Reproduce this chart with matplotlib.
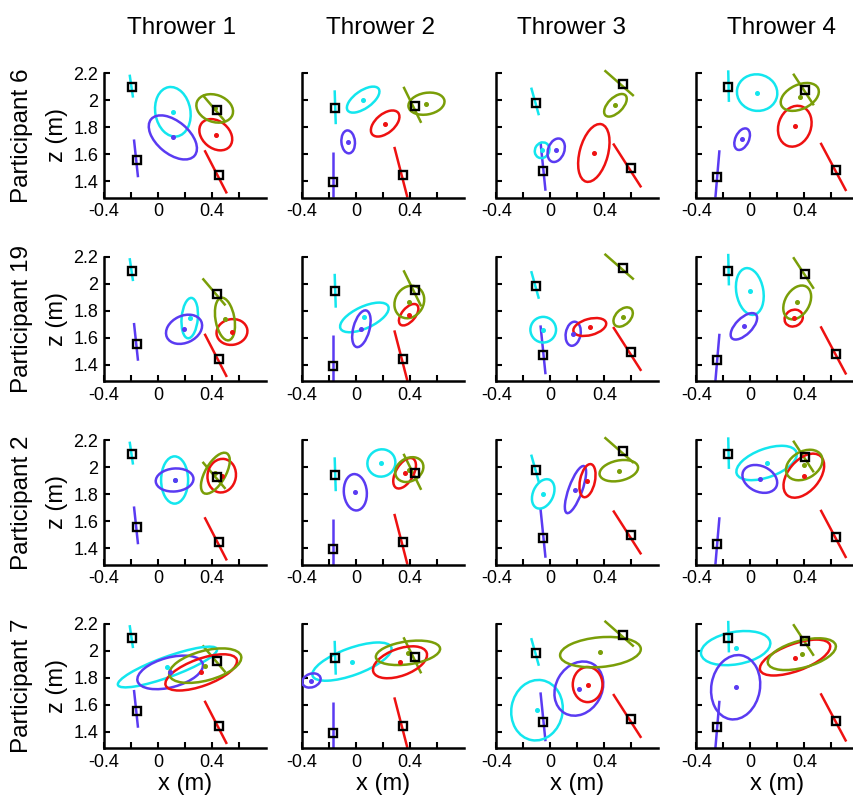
import numpy as np
import matplotlib
matplotlib.use("Agg")
import matplotlib.pyplot as plt
from matplotlib.patches import Ellipse

plt.rcParams["font.family"] = ["Liberation Sans", "DejaVu Sans"]
plt.rcParams["axes.unicode_minus"] = False

throwers = ["Thrower 1", "Thrower 2", "Thrower 3", "Thrower 4"]
participants = ["Participant 6", "Participant 19", "Participant 2", "Participant 7"]

x_ticks = [-0.4, -0.2, 0, 0.2, 0.4, 0.6]
x_ticklabels = ["-0.4", "", "0", "", "0.4", ""]
z_ticks = [1.4, 1.6, 1.8, 2.0, 2.2]
z_ticklabels = ["1.4", "1.6", "1.8", "2", "2.2"]

# thrower marker (square) per thrower, and the short path segment through it
cyan_sq = [(-0.195, 2.095), (-0.153, 1.943), (-0.110, 1.983), (-0.165, 2.098)]
blue_sq = [(-0.153, 1.557), (-0.172, 1.394), (-0.059, 1.475), (-0.247, 1.433)]
red_sq = [(0.450, 1.446), (0.345, 1.446), (0.593, 1.495), (0.637, 1.483)]
olive_sq = [(0.435, 1.928), (0.434, 1.956), (0.536, 2.118), (0.405, 2.074)]

cyan_path = [[(-0.21, 2.19), (-0.185, 2.02)], [(-0.158, 2.074), (-0.150, 1.823)],
             [(-0.143, 2.094), (-0.086, 1.889)], [(-0.165, 2.222), (-0.160, 1.988)]]
blue_path = [[(-0.178, 1.71), (-0.148, 1.43)], [(-0.172, 1.618), (-0.172, 1.28)],
             [(-0.074, 1.692), (-0.037, 1.33)], [(-0.230, 1.63), (-0.260, 1.28)]]
red_path = [[(0.345, 1.63), (0.51, 1.31)], [(0.284, 1.655), (0.381, 1.28)],
            [(0.464, 1.68), (0.672, 1.355)], [(0.519, 1.685), (0.709, 1.328)]]
olive_path = [[(0.33, 2.04), (0.50, 1.84)], [(0.352, 2.10), (0.483, 1.833)],
              [(0.400, 2.222), (0.617, 2.032)], [(0.316, 2.197), (0.469, 1.963)]]

# ellipses: (centre x, centre z, major, minor, angle deg), row = participant, col = thrower
cyan_ell = [
    [(0.110, 1.915, 0.37, 0.26, 100), (0.053, 2.005, 0.28, 0.13, 35),
     (-0.062, 1.630, 0.12, 0.105, 60), (0.049, 2.057, 0.30, 0.27, -10)],
    [(0.235, 1.746, 0.30, 0.12, 85), (0.062, 1.751, 0.39, 0.16, 25),
     (-0.054, 1.660, 0.19, 0.19, 0), (-0.005, 1.943, 0.35, 0.20, 100)],
    [(0.123, 1.906, 0.35, 0.20, 90), (0.188, 2.032, 0.21, 0.20, 30),
     (-0.054, 1.803, 0.23, 0.15, 65), (0.119, 2.032, 0.47, 0.21, 20)],
    [(0.070, 1.880, 0.78, 0.15, 20), (-0.030, 1.920, 0.62, 0.20, 20),
     (-0.100, 1.560, 0.45, 0.38, 80), (-0.110, 2.020, 0.52, 0.24, 10)],
]
blue_ell = [
    [(0.110, 1.725, 0.42, 0.24, -40), (-0.058, 1.692, 0.17, 0.10, 95),
     (0.042, 1.630, 0.18, 0.12, 70), (-0.062, 1.712, 0.17, 0.10, 65)],
    [(0.193, 1.663, 0.28, 0.20, 25), (0.040, 1.667, 0.28, 0.12, 75),
     (0.168, 1.630, 0.18, 0.11, 80), (-0.049, 1.685, 0.25, 0.12, 45)],
    [(0.123, 1.906, 0.28, 0.17, 5), (-0.005, 1.815, 0.27, 0.17, 95),
     (0.185, 1.835, 0.37, 0.10, 70), (0.069, 1.914, 0.27, 0.19, -25)],
    [(0.090, 1.840, 0.50, 0.22, 15), (-0.330, 1.780, 0.14, 0.10, 20),
     (0.210, 1.720, 0.42, 0.34, 60), (-0.110, 1.730, 0.48, 0.36, 80)],
]
red_ell = [
    [(0.428, 1.745, 0.27, 0.20, -40), (0.216, 1.828, 0.25, 0.14, 40),
     (0.321, 1.610, 0.44, 0.21, 75), (0.328, 1.808, 0.31, 0.24, 70)],
    [(0.548, 1.643, 0.23, 0.19, 10), (0.390, 1.771, 0.19, 0.10, 50),
     (0.291, 1.680, 0.25, 0.12, 15), (0.320, 1.746, 0.14, 0.12, 30)],
    [(0.472, 1.938, 0.25, 0.21, 80), (0.360, 1.956, 0.25, 0.13, 60),
     (0.274, 1.901, 0.25, 0.11, 78), (0.395, 1.938, 0.38, 0.23, 50)],
    [(0.320, 1.840, 0.56, 0.20, 20), (0.326, 1.915, 0.42, 0.20, 20),
     (0.275, 1.750, 0.26, 0.22, 90), (0.330, 1.950, 0.55, 0.20, 20)],
]
olive_ell = [
    [(0.420, 1.940, 0.28, 0.20, -20), (0.522, 1.975, 0.27, 0.16, 10),
     (0.481, 1.963, 0.21, 0.11, 45), (0.365, 2.025, 0.30, 0.18, 25)],
    [(0.496, 1.739, 0.32, 0.14, 100), (0.395, 1.865, 0.25, 0.21, 60),
     (0.538, 1.754, 0.17, 0.11, 45), (0.346, 1.862, 0.27, 0.18, 60)],
    [(0.425, 1.956, 0.34, 0.15, 60), (0.395, 1.983, 0.22, 0.17, 30),
     (0.506, 1.975, 0.29, 0.15, 12), (0.398, 2.017, 0.29, 0.20, 30)],
    [(0.350, 1.890, 0.55, 0.22, 15), (0.385, 1.985, 0.48, 0.17, 8),
     (0.370, 1.990, 0.60, 0.22, 5), (0.380, 1.975, 0.52, 0.20, 15)],
]

C_CYAN = "#13E6EE"
C_BLUE = "#5A3BF2"
C_RED = "#EE1111"
C_OLIVE = "#7A9E08"

groups = [
    (C_CYAN, cyan_sq, cyan_path, cyan_ell),
    (C_BLUE, blue_sq, blue_path, blue_ell),
    (C_RED, red_sq, red_path, red_ell),
    (C_OLIVE, olive_sq, olive_path, olive_ell),
]

W, H = 854, 798
fig = plt.figure(figsize=(W / 100, H / 100), dpi=100)

col_left_px = [104, 302, 496.5, 696.5]
row_top_px = [73.3, 256.8, 440.3, 623.8]
title_x_px = [182, 381, 572, 782]
ax_w_px = 1.2 * 135
ax_h_px = 0.92 * 135

for r in range(4):
    for c in range(4):
        left = col_left_px[c] / W
        bottom = 1 - (row_top_px[r] + ax_h_px) / H
        ax = fig.add_axes([left, bottom, ax_w_px / W, ax_h_px / H])
        ax.set_xlim(-0.4, 0.8)
        ax.set_ylim(1.28, 2.2)

        for color, sq, path, ell in groups:
            (x0, z0), (x1, z1) = path[c]
            ax.plot([x0, x1], [z0, z1], color=color, lw=1.8,
                    solid_capstyle="butt", clip_on=False, zorder=2)
            cx, cz, maj, mnr, ang = ell[r][c]
            ax.add_patch(Ellipse((cx, cz), maj, mnr, angle=ang, fill=False,
                                 edgecolor=color, lw=1.8, zorder=3))
            ax.plot(cx, cz, "o", color=color, ms=2.6, zorder=4)
        for color, sq, path, ell in groups:
            ax.plot(*sq[c], "s", mfc="none", mec="black", ms=5.2, mew=1.7,
                    zorder=5, clip_on=False)

        for side in ("top", "right"):
            ax.spines[side].set_visible(False)
        for side in ("left", "bottom"):
            ax.spines[side].set_linewidth(1.8)
        ax.tick_params(direction="in", length=4, width=1.5, labelsize=13,
                       pad=4)
        ax.set_xticks(x_ticks)
        ax.set_xticklabels(x_ticklabels)
        ax.set_yticks(z_ticks)
        if c == 0:
            ax.set_yticklabels(z_ticklabels)
            ax.set_ylabel("z (m)", fontsize=17, labelpad=4)
        else:
            ax.set_yticklabels([])
        if r == 3:
            ax.set_xlabel("x (m)", fontsize=17, labelpad=2)

        if r == 0:
            fig.text(title_x_px[c] / W, 1 - 28 / H, throwers[c],
                     ha="center", va="center", fontsize=17.5)
        if c == 0:
            fig.text(22 / W, bottom + ax_h_px / H / 2, participants[r],
                     ha="center", va="center", rotation=90, fontsize=17.5)

fig.savefig("out.png", dpi=100)
